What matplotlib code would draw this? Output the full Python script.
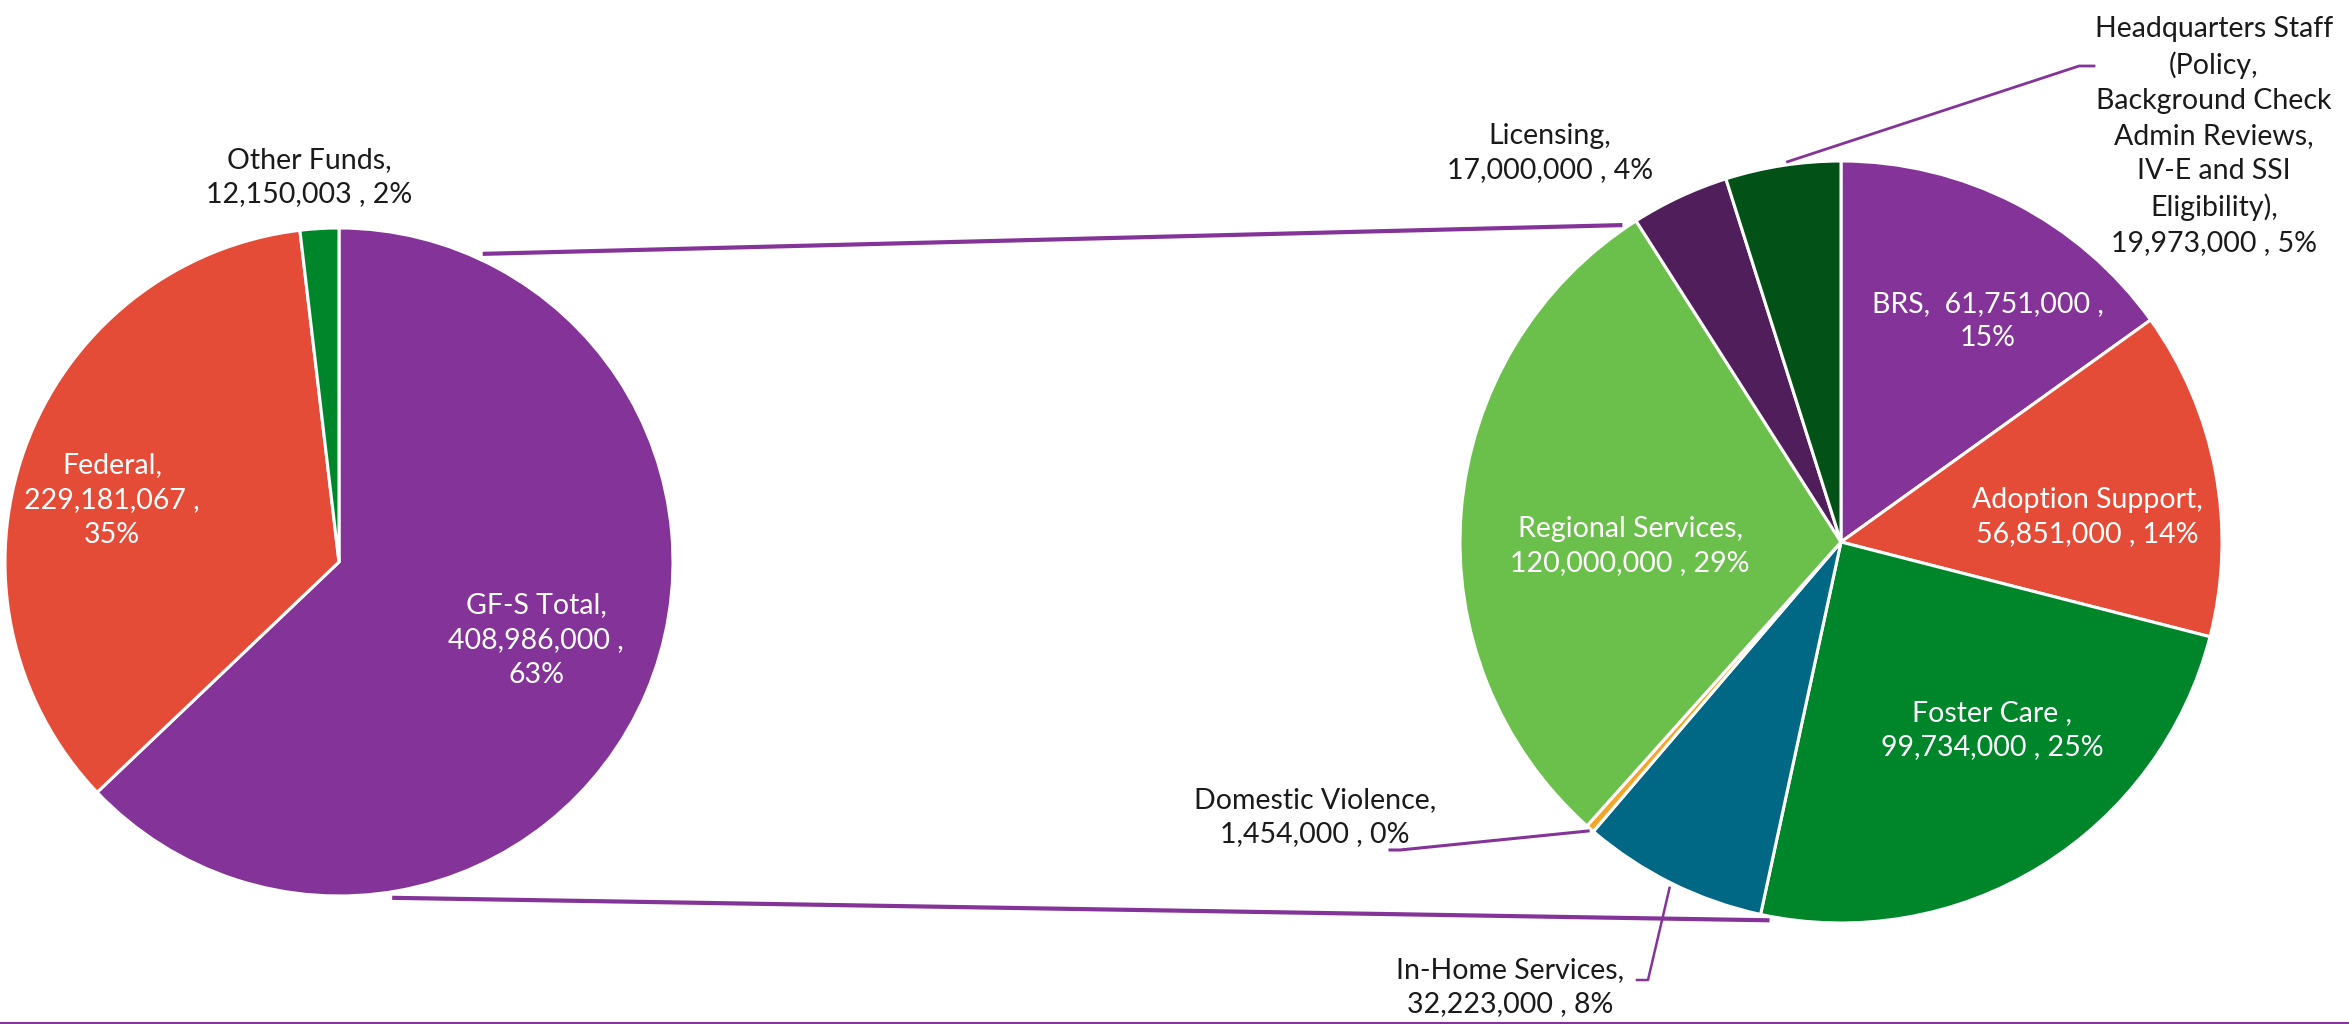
import numpy as np
import matplotlib.pyplot as plt
from matplotlib.lines import Line2D

plt.rcParams['font.family'] = ['Lato', 'DejaVu Sans']

# left pie: funding sources
left_names = ["GF-S Total,", "Federal,", "Other Funds,"]
left_values = [408986000, 229181067, 12150003]
left_pcts = [63, 35, 2]
left_seps = [("\n", "\n"), ("\n", "\n"), ("\n", " ")]
left_colors = ["#843398", "#E54C38", "#00862A"]

# right pie: breakdown of GF-S total
right_names = ["BRS, ", "Adoption Support,", "Foster Care ,", "In-Home Services,",
               "Domestic Violence,", "Regional Services,", "Licensing,",
               "Headquarters Staff\n(Policy,\nBackground Check\nAdmin Reviews,\nIV-E and SSI\nEligibility),"]
right_values = [61751000, 56851000, 99734000, 32223000, 1454000, 120000000, 17000000, 19973000]
right_pcts = [15, 14, 25, 8, 0, 29, 4, 5]
right_seps = [(" ", "\n"), ("\n", " "), ("\n", " "), ("\n", " "),
              ("\n", " "), ("\n", " "), ("\n", " "), ("\n", " ")]
right_colors = ["#843398", "#E54C38", "#00862A", "#006784", "#F4A52A",
                "#6BBF4B", "#4F1E5B", "#025117"]

W, H = 2349, 1024
purple = "#843398"

# layout in pixel coordinates (y up)
left_c, left_r = (339, 462), 334
right_c, right_r = (1841, 482), 381
left_pos = [(536, 384, 'white'), (112, 524, 'white'), (309, 847, '#1a1a1a')]
right_pos = [(1988, 703, 'white'), (2087, 507, 'white'), (1992, 294, 'white'),
             (1510, 37, '#1a1a1a'), (1315, 207, '#1a1a1a'), (1630, 478, 'white'),
             (1550, 871, '#1a1a1a'), (2214, 888, '#1a1a1a')]


def label(name, value, pct, seps):
    return f"{name}{seps[0]}{value:,} ,{seps[1]}{pct}%"


def edge(c, r, ang):
    a = np.radians(ang)
    return c[0] + r * np.cos(a), c[1] + r * np.sin(a)


fig = plt.figure(figsize=(W / 100, H / 100), dpi=100)
ax = fig.add_axes([0, 0, 1, 1])

wp = dict(edgecolor='white', linewidth=2.2)
ax.pie(left_values, colors=left_colors, startangle=90, counterclock=False,
       center=left_c, radius=left_r, wedgeprops=wp)
ax.pie(right_values, colors=right_colors, startangle=90, counterclock=False,
       center=right_c, radius=right_r, wedgeprops=wp)

for n, v, p, s, (x, y, col) in zip(left_names, left_values, left_pcts, left_seps, left_pos):
    ax.text(x, y, label(n, v, p, s), ha='center', va='center', color=col,
            fontsize=20.5, linespacing=1.42)
for n, v, p, s, (x, y, col) in zip(right_names, right_values, right_pcts, right_seps, right_pos):
    ax.text(x, y, label(n, v, p, s), ha='center', va='center', color=col,
            fontsize=20.5, linespacing=1.42)

# connector lines between the two pies
for la, ra in [(65, 124.6), (-81, -100.7)]:
    p1 = edge(left_c, left_r + 6, la)
    p2 = edge(right_c, right_r + 4, ra)
    ax.plot([p1[0], p2[0]], [p1[1], p2[1]], color=purple, lw=3, solid_capstyle='butt')

# leader lines for outside labels
cum = np.cumsum([0] + right_values) / sum(right_values)
mid = 90 - 360 * (cum[:-1] + cum[1:]) / 2
dv = edge(right_c, right_r + 3, mid[4])
ax.plot([dv[0], 1400, 1390], [dv[1], 174, 174], color=purple, lw=2.2)
ih = edge(right_c, right_r + 5, mid[3])
ax.plot([ih[0], 1648, 1637], [ih[1], 44, 44], color=purple, lw=1.8)
hq = edge(right_c, right_r + 3, 98)
ax.plot([hq[0], 2079, 2094], [hq[1], 958, 958], color=purple, lw=2)

ax.set_xlim(0, W)
ax.set_ylim(0, H)
ax.set_aspect('equal')
ax.axis('off')

fig.add_artist(Line2D([0, 1], [0.001, 0.001], color=purple, lw=1.5))

fig.savefig('out.png', dpi=100)
